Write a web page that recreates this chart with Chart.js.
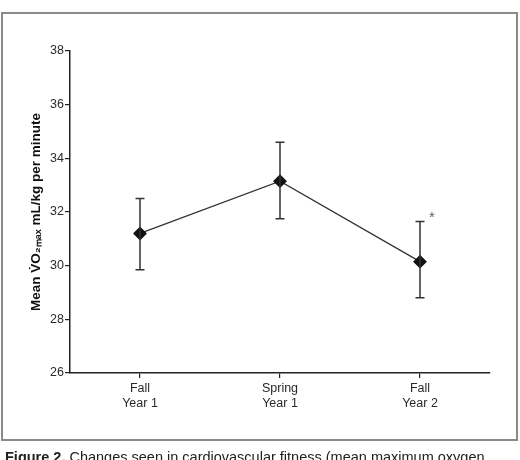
<!DOCTYPE html>
<html>
<head>
<meta charset="utf-8">
<script src="https://cdn.jsdelivr.net/npm/chart.js@4.4.1/dist/chart.umd.min.js"></script>
<style>
html,body{margin:0;padding:0;background:#fff;}
#wrap{position:relative;width:520px;height:460px;}
</style>
</head>
<body>
<div id="wrap"><canvas id="c" width="520" height="460"></canvas></div>
<script>
const categories = [["Fall","Year 1"],["Spring","Year 1"],["Fall","Year 2"]];
const means = [31.2, 33.15, 30.15];
const upper = [32.5, 34.6, 31.65];
const lower = [29.85, 31.75, 28.8];
const yTicks = [26, 28, 30, 32, 34, 36, 38];
const significant = [false, false, true];
const yTitle = "Mean V̇O₂ₘₐₓ mL/kg per minute";
const caption = ["Figure 2.", " Changes seen in cardiovascular fitness (mean maximum oxygen"];

const FONT = "'Liberation Sans Narrow','Liberation Sans',Arial,sans-serif";

const decor = {
  id: 'decor',
  beforeDraw(chart) {
    const ctx = chart.ctx;
    ctx.save();
    ctx.fillStyle = '#fff';
    ctx.fillRect(0, 0, chart.width, chart.height);
    ctx.strokeStyle = '#8a8a8a';
    ctx.lineWidth = 2;
    ctx.strokeRect(2, 13, 515, 427);
    ctx.textBaseline = 'top';
    ctx.fillStyle = '#222';
    ctx.font = "bold 14.5px 'Liberation Sans',Arial,sans-serif";
    ctx.fillText(caption[0], 5, 451);
    const w = ctx.measureText(caption[0]).width;
    ctx.font = "14.5px 'Liberation Sans',Arial,sans-serif";
    ctx.fillText(caption[1], 5 + w, 451);
    ctx.restore();
  },
  afterDatasetsDraw(chart) {
    const ctx = chart.ctx;
    const xs = chart.scales.x, ys = chart.scales.y;
    ctx.save();
    ctx.strokeStyle = '#333';
    ctx.lineWidth = 1.5;
    for (let i = 0; i < means.length; i++) {
      const x = xs.getPixelForValue(i);
      const yt = ys.getPixelForValue(upper[i]);
      const yb = ys.getPixelForValue(lower[i]);
      ctx.beginPath();
      ctx.moveTo(x, yt); ctx.lineTo(x, yb);
      ctx.moveTo(x - 4.5, yt); ctx.lineTo(x + 4.5, yt);
      ctx.moveTo(x - 4.5, yb); ctx.lineTo(x + 4.5, yb);
      ctx.stroke();
      if (significant[i]) {
        ctx.fillStyle = '#556677';
        ctx.font = "15px 'Liberation Sans',Arial,sans-serif";
        ctx.textAlign = 'center';
        ctx.textBaseline = 'middle';
        ctx.fillText('*', x + 12, yt - 4);
      }
    }
    ctx.restore();
  }
};

new Chart(document.getElementById('c'), {
  type: 'line',
  data: {
    labels: categories,
    datasets: [{
      data: means,
      borderColor: '#333',
      borderWidth: 1.3,
      pointStyle: 'rectRot',
      pointRadius: 6,
      pointHoverRadius: 6,
      pointBackgroundColor: '#111',
      pointBorderColor: '#111',
      tension: 0
    }]
  },
  options: {
    responsive: false,
    animation: false,
    events: [],
    layout: { padding: { left: 22, right: 30, top: 51, bottom: 0 } },
    plugins: { legend: { display: false }, tooltip: { enabled: false } },
    scales: {
      x: {
        type: 'category',
        offset: true,
        afterFit(s) { s.height = 87; },
        grid: { display: true, drawOnChartArea: false, drawTicks: true, tickLength: 5, color: '#222', lineWidth: 1.2 },
        border: { display: true, color: '#222', width: 1.5 },
        ticks: { color: '#2a2a2a', font: { family: FONT, size: 12.5 }, padding: 3, maxRotation: 0 }
      },
      y: {
        min: 26, max: 38,
        afterFit(s) { s.width = 48; },
        afterBuildTicks(s) { s.ticks = yTicks.map(v => ({ value: v })); },
        grid: { display: true, drawOnChartArea: false, drawTicks: true, tickLength: 5, color: '#222', lineWidth: 1.2 },
        border: { display: true, color: '#222', width: 1.5 },
        ticks: { color: '#2a2a2a', font: { family: FONT, size: 12.5 }, padding: 1 },
        title: { display: true, text: yTitle, color: '#111', font: { family: FONT, size: 13.5, weight: 'bold' }, padding: { top: 6, bottom: 0 } }
      }
    }
  },
  plugins: [decor]
});
</script>
</body>
</html>
